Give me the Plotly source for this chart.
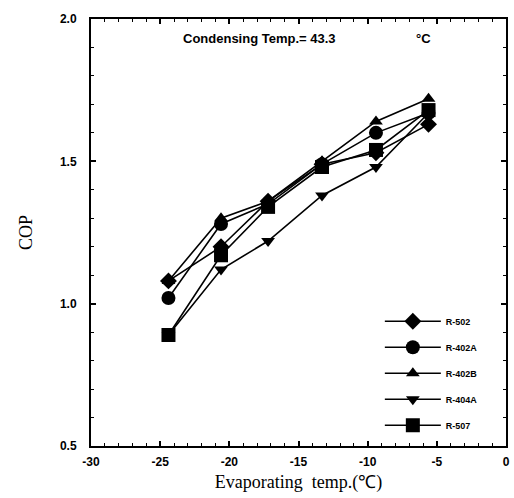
import plotly.graph_objects as go

evap_temp = [-24.4, -20.6, -17.2, -13.3, -9.4, -5.6]
cop_r502 = [1.08, 1.20, 1.36, 1.49, 1.53, 1.63]
cop_r402a = [1.02, 1.28, 1.35, 1.49, 1.60, 1.67]
cop_r402b = [1.08, 1.30, 1.36, 1.50, 1.64, 1.72]
cop_r404a = [0.89, 1.12, 1.22, 1.38, 1.48, 1.67]
cop_r507 = [0.89, 1.17, 1.34, 1.48, 1.54, 1.68]

series_names = ["R-502", "R-402A", "R-402B", "R-404A", "R-507"]
series_vals = [cop_r502, cop_r402a, cop_r402b, cop_r404a, cop_r507]
symbols = ["diamond", "circle", "triangle-up", "triangle-down", "square"]
sizes = [13, 14, 12, 12, 14]

x_ticks = [-30, -25, -20, -15, -10, -5, 0]
y_ticks = [0.5, 1.0, 1.5, 2.0]

fig = go.Figure()
for i, (name, vals, sym, sz) in enumerate(zip(series_names, series_vals, symbols, sizes)):
    fig.add_trace(go.Scatter(
        x=evap_temp, y=vals, name=name, mode="lines+markers",
        line=dict(color="black", width=1.6),
        marker=dict(symbol=sym, size=sz, color="black"),
        legendgroup=name,
    ))

axis_common = dict(
    showgrid=False, zeroline=False, showline=True, linecolor="black", linewidth=2,
    mirror="ticks", ticks="inside", ticklen=5, tickwidth=1.5, tickcolor="black",
    tickfont=dict(family="Liberation Sans", size=12, color="black", weight="bold"),
)

fig.update_xaxes(
    range=[-30, 0], tickvals=x_ticks, ticktext=[str(v) for v in x_ticks],
    minor=dict(dtick=1, ticks="inside", ticklen=3, tickcolor="black", tickwidth=1),
    ticklabelstandoff=4,
    title=dict(text="Evaporating\u00a0\u00a0temp.(℃)\u00a0\u00a0\u00a0\u00a0",
               font=dict(family="Liberation Serif", size=18, color="black"), standoff=7),
    **axis_common,
)
fig.update_yaxes(
    range=[0.5, 2.0], tickvals=y_ticks, ticktext=[f"{v:.1f}" for v in y_ticks],
    minor=dict(dtick=0.1, ticks="inside", ticklen=3, tickcolor="black", tickwidth=1),
    ticklabelstandoff=10,
    title=dict(text="COP", font=dict(family="Liberation Serif", size=18, color="black"), standoff=23),
    **axis_common,
)

fig.add_annotation(x=0.406, y=0.955, xref="paper", yref="paper", showarrow=False,
                   xanchor="center", yanchor="middle",
                   text="Condensing Temp.= 43.3",
                   font=dict(family="Liberation Sans", size=13, color="black", weight="bold"))
fig.add_annotation(x=0.8, y=0.955, xref="paper", yref="paper", showarrow=False,
                   xanchor="center", yanchor="middle",
                   text="°C",
                   font=dict(family="Liberation Sans", size=13, color="black", weight="bold"))

fig.update_layout(
    width=514, height=498,
    margin=dict(l=91, r=4, t=19, b=52),
    paper_bgcolor="white", plot_bgcolor="white",
    showlegend=True,
    legend=dict(x=0.696, y=0.326, xanchor="left", yanchor="top",
                font=dict(family="Liberation Sans", size=9, color="black", weight="bold"),
                bgcolor="rgba(0,0,0,0)", tracegroupgap=7, itemwidth=56),
)

fig.write_html("out.html", config={"displayModeBar": False},
               post_script="document.body.style.margin='0';")
